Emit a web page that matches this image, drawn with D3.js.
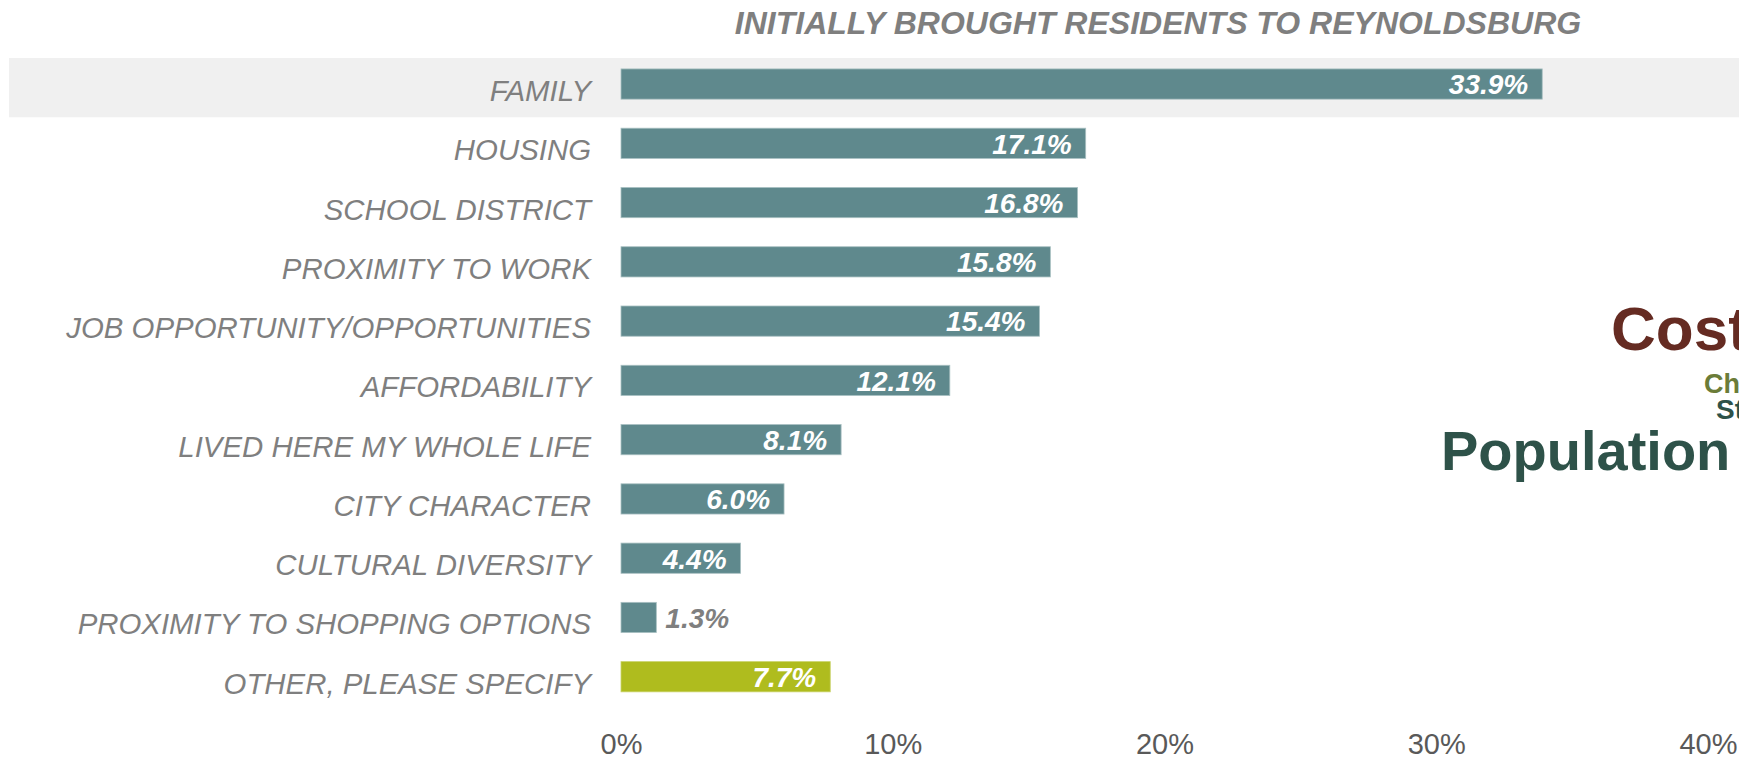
<!DOCTYPE html>
<html>
<head>
<meta charset="utf-8">
<script src="https://cdn.jsdelivr.net/npm/d3@7"></script>
<style>
  html, body { margin: 0; padding: 0; background: #fff; overflow: hidden; }
  svg { display: block; font-family: "Liberation Sans", Arial, sans-serif; }
</style>
</head>
<body>
<div id="chart"></div>
<script>
// reasons that brought residents to the city
var categories = [
    'FAMILY', 'HOUSING', 'SCHOOL DISTRICT', 'PROXIMITY TO WORK',
    'JOB OPPORTUNITY/OPPORTUNITIES', 'AFFORDABILITY', 'LIVED HERE MY WHOLE LIFE',
    'CITY CHARACTER', 'CULTURAL DIVERSITY', 'PROXIMITY TO SHOPPING OPTIONS',
    'OTHER, PLEASE SPECIFY'
];
var shares = [0.339, 0.171, 0.168, 0.158, 0.154, 0.121, 0.081, 0.060, 0.044, 0.013, 0.077];
var tickValues = [0, 0.1, 0.2, 0.3, 0.4];
var highlighted = 'FAMILY';
var otherCategory = 'OTHER, PLEASE SPECIFY';
// words of the cloud peeking in at the right edge
var cloudWords = ['Cost', 'Character', 'Stores', 'Population'];

const width = 1739;
const height = 758;

let svg = d3.select('#chart')
    .append('svg')
        .attr('width', width)
        .attr('height', height);

// x and y scales
const xScale = d3.scaleLinear()
    .domain([0, 0.4])
    .range([621, 1708]);
const yScale = d3.scaleBand()
    .domain(categories)
    .range([54.4, 54.4 + 11 * 59.27])
    .paddingInner(0.49)
    .paddingOuter(0.245);

// grey band behind the highlighted row
svg.append('rect')
    .attr('x', 9)
    .attr('y', yScale(highlighted) + yScale.bandwidth() / 2 - 26)
    .attr('width', width - 9)
    .attr('height', yScale.step())
    .attr('fill', '#f0f0f0');

// word cloud fragments
let cloud = svg.append('g').style('font-weight', 'bold');
cloud.append('text').attr('x', 1611).attr('y', 350)
    .style('font-size', '62px').attr('fill', '#652b22').text(cloudWords[0]);
cloud.append('text').attr('x', 1704).attr('y', 393)
    .style('font-size', '27px').attr('fill', '#6b7c38').text(cloudWords[1]);
cloud.append('text').attr('x', 1716).attr('y', 419)
    .style('font-size', '28px').attr('fill', '#2e5249').text(cloudWords[2]);
cloud.append('text').attr('x', 1441).attr('y', 470)
    .style('font-size', '56px').attr('fill', '#2e5249').text(cloudWords[3]);

// title
svg.append('text')
    .attr('x', 1158)
    .attr('y', 34)
    .attr('text-anchor', 'middle')
    .style('font-size', '32px')
    .style('font-weight', 'bold')
    .style('font-style', 'italic')
    .attr('fill', '#7f7f7f')
    .text('INITIALLY BROUGHT RESIDENTS TO REYNOLDSBURG');

// category labels
svg.append('g')
    .selectAll('text')
    .data(categories)
    .enter()
    .append('text')
        .attr('x', 591)
        .attr('y', (d) => yScale(d) + yScale.bandwidth() / 2 + 17)
        .attr('text-anchor', 'end')
        .style('font-size', '29.4px')
        .style('font-style', 'italic')
        .attr('fill', '#7f7f7f')
        .text((d) => d);

// bars
let rows = categories.map((c, i) => ({cat: c, value: shares[i]}));
svg.append('g')
    .selectAll('rect')
    .data(rows)
    .enter()
    .append('rect')
        .attr('x', xScale(0))
        .attr('y', (d) => yScale(d.cat))
        .attr('width', (d) => xScale(d.value) - xScale(0))
        .attr('height', yScale.bandwidth())
        .attr('fill', (d) => d.cat === otherCategory ? '#afbc1e' : '#5f898d')
        .attr('stroke', (d) => d.cat === otherCategory ? '#c9d36a' : '#a9c0c2')
        .attr('stroke-width', 0.8);

// value labels, inside the bar unless the bar is too short
const fmt = d3.format('.1%');
svg.append('g')
    .selectAll('text')
    .data(rows)
    .enter()
    .append('text')
        .style('font-size', '28px')
        .style('font-weight', 'bold')
        .style('font-style', 'italic')
        .attr('y', (d) => yScale(d.cat) + yScale.bandwidth() / 2)
        .attr('dy', '0.37em')
        .each(function (d) {
            let barW = xScale(d.value) - xScale(0);
            let t = d3.select(this).text(fmt(d.value));
            if (barW > 90) {
                t.attr('x', xScale(d.value) - 14).attr('text-anchor', 'end').attr('fill', '#ffffff');
            } else {
                t.attr('x', xScale(d.value) + 9).attr('text-anchor', 'start').attr('fill', '#7f7f7f');
            }
        });

// x axis
let axis = svg.append('g')
    .attr('transform', 'translate(0, 733)')
    .call(d3.axisBottom(xScale)
        .tickValues(tickValues)
        .tickFormat(d3.format('.0%'))
        .tickSize(0)
        .tickPadding(0));
axis.select('.domain').remove();
axis.selectAll('text')
    .attr('y', 0)
    .attr('dy', '0.71em')
    .style('font-size', '29px')
    .style('font-family', '"Liberation Sans", Arial, sans-serif')
    .attr('fill', '#595959');
</script>
</body>
</html>
